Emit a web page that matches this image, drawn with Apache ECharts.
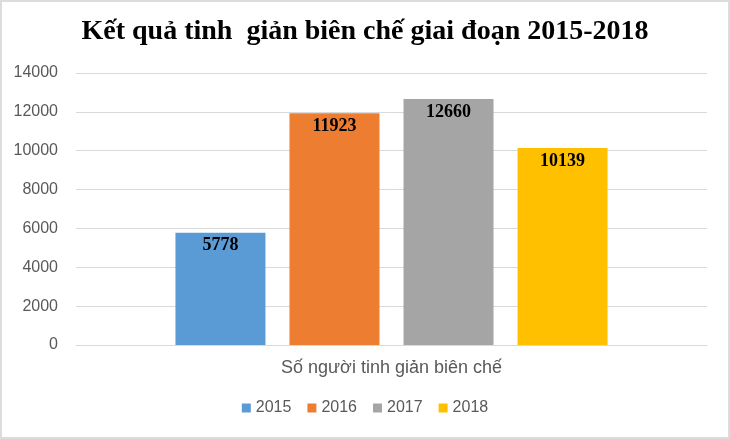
<!DOCTYPE html>
<html>
<head>
<meta charset="utf-8">
<script src="https://cdn.jsdelivr.net/npm/echarts@6/dist/echarts.min.js"></script>
<style>
html,body{margin:0;padding:0;background:#fff;}
#chart{width:730px;height:439px;}
</style>
</head>
<body>
<div id="chart"></div>
<script>
const titleText = 'Kết quả tinh  giản biên chế giai đoạn 2015-2018';
const categories = ['Số người tinh giản biên chế'];
const seriesNames = ['2015', '2016', '2017', '2018'];
const values2015 = [5778];
const values2016 = [11923];
const values2017 = [12660];
const values2018 = [10139];
const colors = ['#5b9bd5', '#ed7d31', '#a5a5a5', '#ffc000'];
const yTicks = { min: 0, max: 14000, interval: 2000 };

const seriesValues = [values2015, values2016, values2017, values2018];

const chart = echarts.init(document.getElementById('chart'), null, { renderer: 'canvas' });
chart.setOption({
  animation: false,
  backgroundColor: '#fff',
  color: colors,
  title: {
    text: titleText,
    left: 'center',
    top: 13,
    textStyle: {
      fontFamily: '"Liberation Serif", "Times New Roman", serif',
      fontWeight: 'bold',
      fontSize: 28,
      color: '#000'
    }
  },
  graphic: [{
    type: 'rect',
    shape: { x: 1, y: 1, width: 728, height: 437 },
    style: { fill: 'none', stroke: '#dcdcdc', lineWidth: 2 },
    silent: true
  }],
  legend: {
    data: seriesNames,
    bottom: 18,
    left: 'center',
    itemWidth: 9,
    itemHeight: 9,
    itemGap: 16,
    icon: 'rect',
    textStyle: {
      fontFamily: '"Liberation Sans", Arial, sans-serif',
      fontSize: 16,
      color: '#595959'
    }
  },
  grid: { left: 76, right: 23, top: 73, bottom: 94, containLabel: false },
  xAxis: {
    type: 'category',
    data: categories,
    axisLine: { show: true, lineStyle: { color: '#d9d9d9', width: 1 } },
    axisTick: { show: false },
    axisLabel: {
      margin: 14,
      fontFamily: '"Liberation Sans", Arial, sans-serif',
      fontSize: 18,
      color: '#595959'
    }
  },
  yAxis: {
    type: 'value',
    min: yTicks.min,
    max: yTicks.max,
    interval: yTicks.interval,
    axisLine: { show: false },
    axisTick: { show: false },
    splitLine: { lineStyle: { color: '#d9d9d9', width: 1 } },
    axisLabel: {
      margin: 18,
      formatter: v => String(v),
      fontFamily: '"Liberation Sans", Arial, sans-serif',
      fontSize: 16,
      color: '#595959'
    }
  },
  series: seriesNames.map((name, i) => ({
    name: name,
    type: 'bar',
    data: seriesValues[i],
    barWidth: 90,
    barGap: '26.7%',
    barCategoryGap: '31.5%',
    itemStyle: { color: colors[i] },
    label: {
      show: true,
      position: 'insideTop',
      distance: 4,
      fontFamily: '"Liberation Serif", "Times New Roman", serif',
      fontWeight: 'bold',
      fontSize: 18,
      color: '#000'
    }
  }))
});
</script>
</body>
</html>
